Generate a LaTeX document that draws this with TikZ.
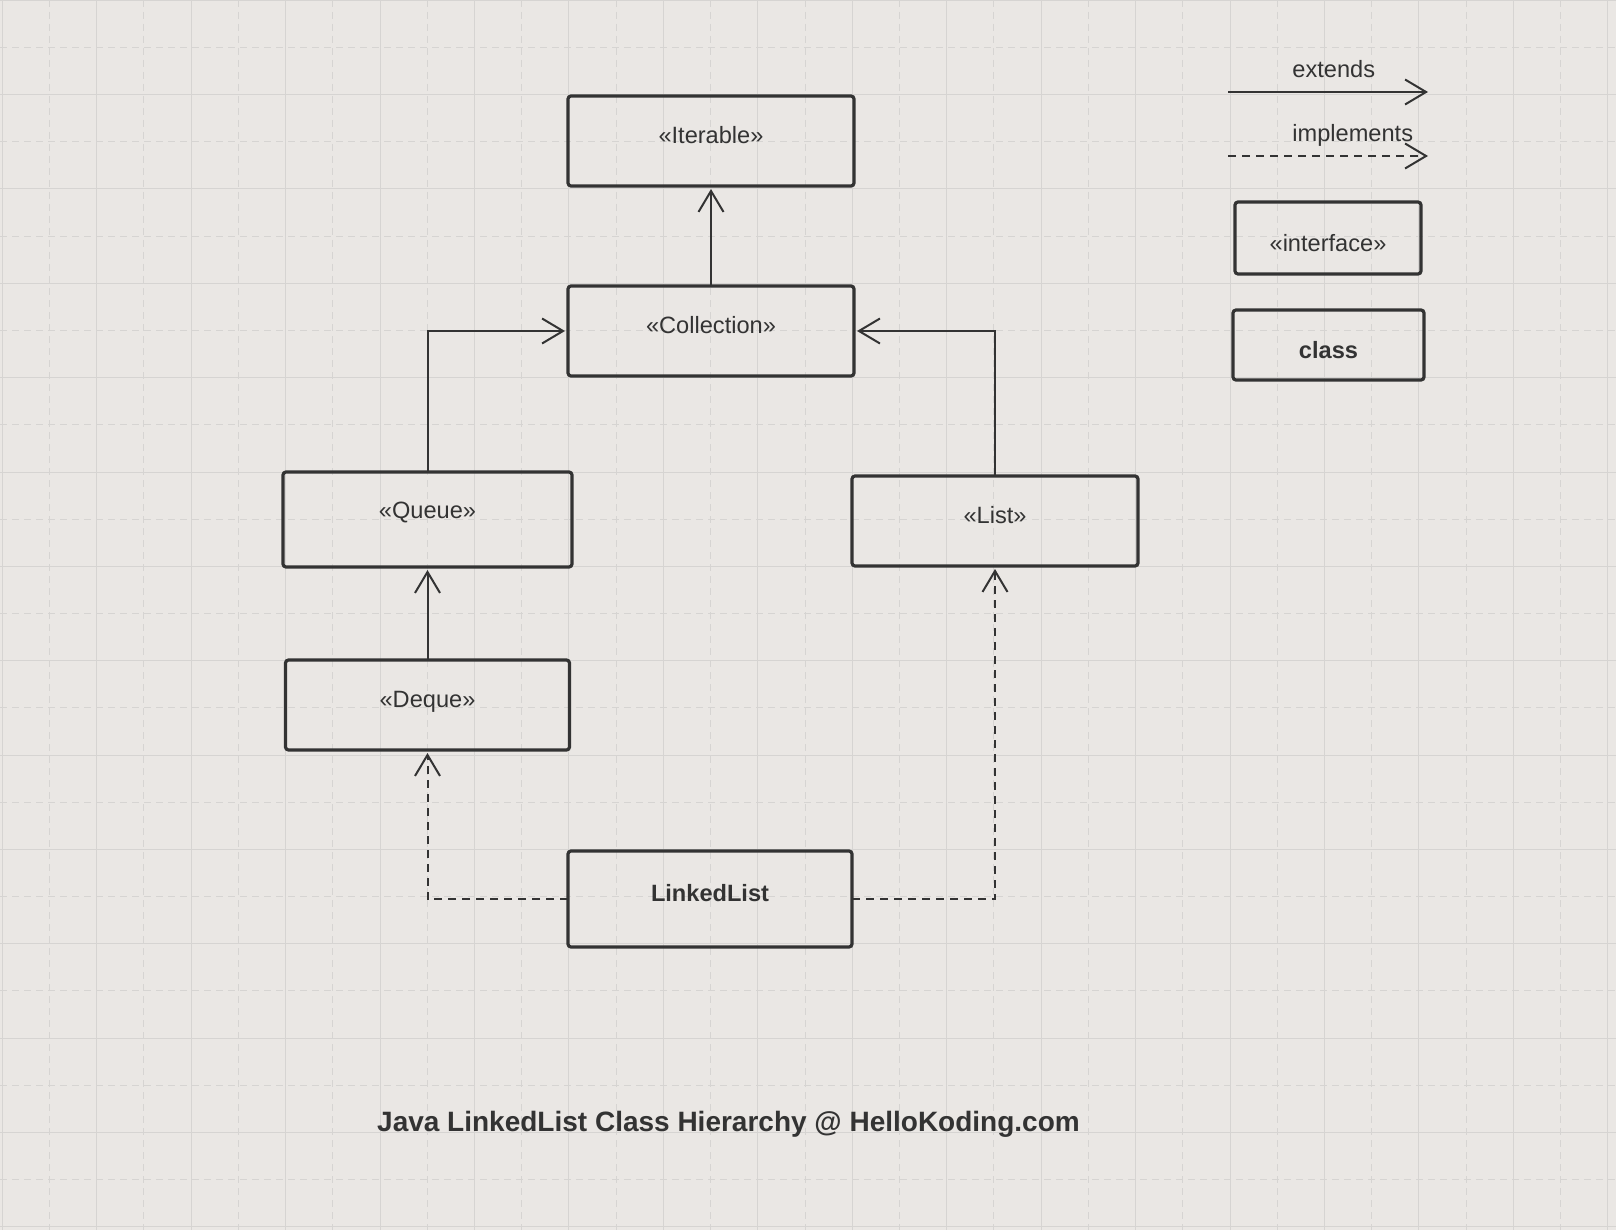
\documentclass[tikz,border=0pt]{standalone}
\usepackage{fontspec}
\setmainfont{Liberation Sans}
\usetikzlibrary{arrows.meta}
\definecolor{bgcol}{RGB}{234,231,228}
\definecolor{gridcol}{RGB}{214,212,210}
\definecolor{inkcol}{RGB}{51,51,51}
\newcommand{\lblsize}{\fontsize{11.8pt}{14pt}\selectfont}

\begin{document}
\begin{tikzpicture}[>={Straight Barb[length=10.5pt,width=12.5pt]},inkcol]
\useasboundingbox (0,0) rectangle (808pt,-615pt);
\fill [bgcol] (0,0) rectangle (808pt,-615pt);

% background grid
\foreach \i [evaluate=\i as \x using 1.1+47.225*(\i+0.5)] in {0,...,16}
  \draw [gridcol,line width=0.5pt,dash pattern=on 3.5pt off 2.5pt] (\x pt,0) -- (\x pt,-615pt);
\foreach \i [evaluate=\i as \y using 0.15+47.175*(\i+0.5)] in {0,...,12}
  \draw [gridcol,line width=0.5pt,dash pattern=on 3.5pt off 2.5pt] (0,-\y pt) -- (808pt,-\y pt);
\foreach \i [evaluate=\i as \x using 1.1+47.225*\i] in {0,...,17}
  \draw [gridcol,line width=0.5pt] (\x pt,0) -- (\x pt,-615pt);
\foreach \i [evaluate=\i as \y using 0.15+47.175*\i] in {0,...,13}
  \draw [gridcol,line width=0.5pt] (0,-\y pt) -- (808pt,-\y pt);

\begin{scope}

\tikzstyle{ifnode} = [draw,line width=1.6pt,rounded corners=1.5pt,outer sep=0pt,inner sep=0pt,font=\lblsize,text height=8.4pt,text depth=6pt];
\tikzstyle{clsnode} = [ifnode,font=\lblsize\bfseries];
\tikzstyle{keynode} = [draw,line width=1.6pt,rounded corners=1.5pt,outer sep=0pt,inner sep=0pt,font=\lblsize,text height=13.4pt,text depth=0pt];

\node [ifnode,anchor=north,minimum width=143pt,minimum height=45pt] (it) at (355.5pt,-48pt) {«Iterable»};
\node [ifnode,anchor=north,minimum width=143pt,minimum height=45pt] (co) at ([yshift=-50pt]it.south) {«Collection»};
\node [ifnode,anchor=north,minimum width=144.5pt,minimum height=47.5pt,text depth=9pt] (qu) at ([xshift=-141.75pt,yshift=-48pt]co.south) {«Queue»};
\node [ifnode,anchor=north,minimum width=143pt,minimum height=45pt] (li) at ([xshift=142pt,yshift=-50pt]co.south) {«List»};
\node [ifnode,anchor=north,minimum width=142pt,minimum height=45pt] (de) at ([yshift=-46.5pt]qu.south) {«Deque»};
\node [clsnode,anchor=north,minimum width=142pt,minimum height=48pt] (ll) at ([xshift=-0.5pt,yshift=-237.5pt]co.south) {LinkedList};

\node [keynode,anchor=north,minimum width=93pt,minimum height=36pt] (ifc) at (664pt,-101pt) {«interface»};
\node [keynode,anchor=north,minimum width=95.5pt,minimum height=35pt,font=\lblsize\bfseries] (cls) at ([xshift=0.25pt,yshift=-18pt]ifc.south) {class};

\coordinate (e1) at (614pt,-46pt);
\coordinate (e2) at (714pt,-46pt);
\coordinate (m1) at (614pt,-78pt);
\coordinate (m2) at (714pt,-78pt);
\node [anchor=base west,inner sep=0pt,font=\lblsize] (ext) at ([xshift=32pt,yshift=7.15pt]e1) {extends};
\node [anchor=base west,inner sep=0pt,font=\lblsize] (imp) at ([xshift=32pt,yshift=7.15pt]m1) {implements};

\node [anchor=base,inner sep=0pt,font=\fontsize{14pt}{17pt}\selectfont\bfseries] (title) at (364.25pt,-565.85pt) {Java LinkedList Class Hierarchy @ HelloKoding.com};

\draw [->,line width=1pt,shorten >=1.5pt] (co.north) -- (it.south);
\draw [->,line width=1pt,shorten >=1.5pt] (qu.north) |- (co.west);
\draw [->,line width=1pt,shorten >=1.5pt] (li.north) |- (co.east);
\draw [->,line width=1pt,shorten >=1.5pt] (de.north) -- (qu.south);
\draw [->,line width=1pt,shorten >=1.5pt,dash pattern=on 4pt off 3pt] (ll.west) -| (de.south);
\draw [->,line width=1pt,shorten >=1.5pt,dash pattern=on 4pt off 3pt] (ll.east) -| (li.south);

\draw [->,line width=1pt] (e1) -- (e2);
\draw [->,line width=1pt,dash pattern=on 4pt off 3pt] (m1) -- (m2);

\end{scope}
\end{tikzpicture}
\end{document}
